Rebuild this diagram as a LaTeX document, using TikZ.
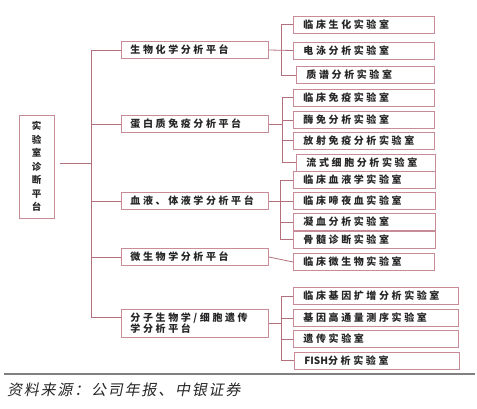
\documentclass[tikz,border=0pt]{standalone}
\usepackage{fontspec}
\newfontfamily\cjk{Noto Sans CJK SC}
\makeatletter
\newcommand\spread[2][2.6pt]{\@tfor\ch:=#2\do{\ch\kern#1}\unkern}
\makeatother
\definecolor{boxline}{RGB}{200,140,152}
\definecolor{linkline}{RGB}{178,112,124}
\definecolor{ruleline}{RGB}{128,128,128}

\begin{document}
\begin{tikzpicture}
      [x=1pt, y=-1pt,
      every node/.style={font=\cjk\bfseries\fontsize{10}{11}\selectfont, text=black!85},
      rootbox/.style={draw=boxline, line width=0.9pt, minimum width=35pt, minimum height=103pt,
        align=center, inner sep=0pt, font=\cjk\bfseries\fontsize{9.5}{13.5}\selectfont},
      plat/.style={draw=boxline, line width=0.9pt, anchor=west, inner xsep=9pt, text width=129pt,
        minimum height=17pt, inner ysep=1pt, align=left},
      lab/.style={plat, inner xsep=10pt, text width=121pt},
      widelab/.style={lab, text width=145pt},
      conn/.style={draw=linkline, line width=0.8pt}]
      \useasboundingbox (0,0) rectangle (477,408);
      \node (root) at (36.5,166.5) [rootbox] {实\\验\\室\\诊\\断\\平\\台};
      \node (p1) at (121,50) [plat] {\spread{生物化学分析平台}};
      \node (p2) at (121,124) [plat] {\spread{蛋白质免疫分析平台}};
      \node (p3) at (121,201) [plat] {\spread{血液、体液学分析平台}};
      \node (p4) at (121,257) [plat] {\spread{微生物学分析平台}};
      \node (p5) at (121,323) [plat, minimum height=28pt] {\spread{分子生物学/细胞遗传}\\\spread{学分析平台}};
      \node (l11) at (293,24.5) [lab] {\spread{临床生化实验室}};
      \node (l12) at (293,50.5) [lab] {\spread{电泳分析实验室}};
      \node (l13) at (296,75) [lab, text width=118pt] {\spread{质谱分析实验室}};
      \node (l21) at (293,97.5) [lab] {\spread{临床免疫实验室}};
      \node (l22) at (293,120) [lab] {\spread{酶免分析实验室}};
      \node (l23) at (293,140.5) [lab] {\spread{放射免疫分析实验室}};
      \node (l24) at (296,162.5) [lab, text width=119pt] {\spread{流式细胞分析实验室}};
      \node (l31) at (293,180) [lab, text width=122pt] {\spread{临床血液学实验室}};
      \node (l32) at (293,201) [lab, text width=122pt] {\spread{临床啼夜血实验室}};
      \node (l33) at (293,222) [lab, text width=122pt] {\spread{凝血分析实验室}};
      \node (l34) at (293,239.5) [lab, text width=122pt] {\spread{骨髓诊断实验室}};
      \node (l41) at (293,262) [lab] {\spread{临床微生物实验室}};
      \node (l51) at (293,296) [widelab] {\spread{临床基因扩增分析实验室}};
      \node (l52) at (293,318) [widelab] {\spread{基因高通量测序实验室}};
      \node (l53) at (293,339) [widelab] {\spread{遗传实验室}};
      \node (l54) at (294,360.5) [widelab] {FISH\spread{分析实验室}};
      \coordinate (ttop) at (91,50);
      \coordinate (tbot) at (91,317);
      \coordinate (rootout) at (60,163);
      \draw[conn] (rootout) -- (rootout -| ttop);
      \draw[conn] (ttop) -- (tbot);
      \draw[conn] (ttop) -- (p1.west);
      \draw[conn] (p2.west -| ttop) -- (p2.west);
      \draw[conn] (p3.west -| ttop) -- (p3.west);
      \draw[conn] (p4.west -| ttop) -- (p4.west);
      \draw[conn] (tbot) -- (tbot -| p5.west);
      \coordinate (b1) at (281,0);
      \draw[conn] (l11.west) -| (b1 |- l13.west) -- (l13.west);
      \draw[conn] (p1.east) -- (l12.west);
      \coordinate (b2) at (282,0);
      \draw[conn] (l21.west) -| (b2 |- l24.west) -- (l24.west);
      \draw[conn] (p2.east) -- (p2.east -| b2);
      \draw[conn] (l22.west -| b2) -- (l22.west);
      \draw[conn] (l23.west -| b2) -- (l23.west);
      \coordinate (b3) at (280,0);
      \draw[conn] (l31.west) -| (b3 |- l34.west) -- (l34.west);
      \draw[conn] (p3.east) -- (l32.west);
      \draw[conn] (l33.west -| b3) -- (l33.west);
      \draw[conn] (p4.east) -- (l41.west);
      \coordinate (b5) at (281,0);
      \draw[conn] (l51.west) -| (b5 |- l54.west) -- (l54.west);
      \draw[conn] (p5.east) -- (p5.east -| b5);
      \draw[conn] (l52.west -| b5) -- (l52.west);
      \draw[conn] (l53.west -| b5) -- (l53.west);
      \coordinate (rl) at (4,374);
      \coordinate (rr) at (475,374);
      \draw[draw=ruleline, line width=1.3pt] (rl) -- (rr);
      \begin{scope}[shift={(8,390)}, xslant=0.2]
        \node (src) at (0,0) [anchor=west, inner sep=0pt, transform shape,
          font=\cjk\fontsize{15}{18}\selectfont] {\spread[1.8pt]{资料来源：公司年报、中银证券}};
      \end{scope}
    \end{tikzpicture}
\end{document}
